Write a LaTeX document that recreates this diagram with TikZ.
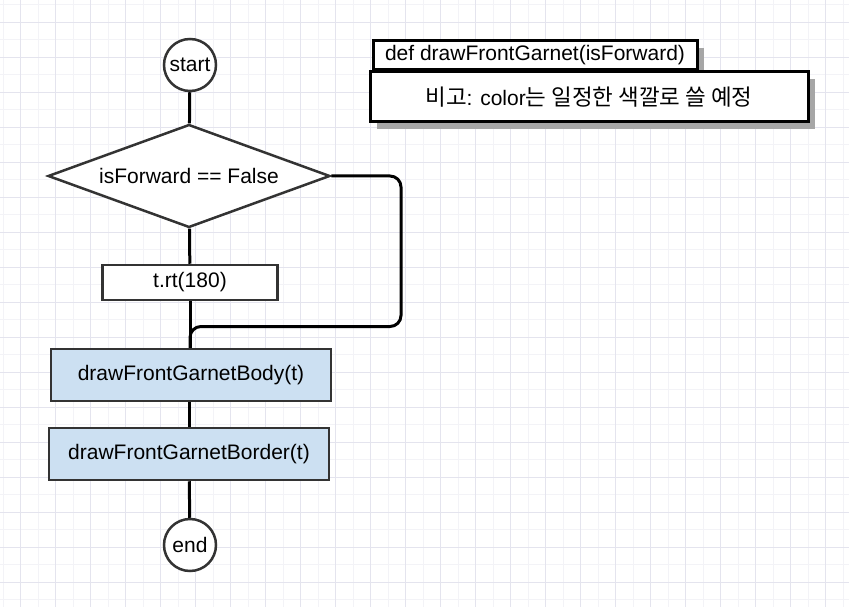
\documentclass[tikz,border=0pt]{standalone}
\usepackage{fontspec}
\setmainfont{Liberation Sans}
\newfontfamily\kr[Scale=1.07]{Noto Sans CJK KR}
\usepackage{tikz}
\usetikzlibrary{shapes.geometric,shadows,positioning}
\definecolor{gridmajor}{HTML}{E4E4EE}
\definecolor{gridminor}{HTML}{F3F3F7}
\definecolor{shapeline}{HTML}{333333}
\definecolor{callfill}{HTML}{CCE0F2}
\definecolor{shadowgray}{HTML}{A6A6A6}
\tikzstyle{terminal}=[circle, draw=shapeline, line width=2.5pt, fill=white, minimum size=52pt, inner sep=0pt]
\tikzstyle{decision}=[diamond, draw=shapeline, line width=2.5pt, fill=white, aspect=2.7, inner sep=0pt, minimum width=282pt, minimum height=103pt]
\tikzstyle{process}=[rectangle, draw=shapeline, line width=2.5pt, fill=white, minimum width=175pt, minimum height=35pt, inner sep=0pt]
\tikzstyle{call}=[rectangle, draw=shapeline, line width=2.5pt, fill=callfill, minimum width=280pt, minimum height=52pt, inner sep=0pt]
\tikzstyle{flow}=[line width=3pt, black]
\tikzstyle{header}=[rectangle, draw=black, line width=3pt, fill=white, minimum width=324pt, minimum height=29pt, inner sep=0pt,
    drop shadow={shadow xshift=7pt, shadow yshift=-7pt, fill=shadowgray, opacity=1}]
\tikzstyle{note}=[rectangle, draw=black, line width=3pt, fill=white, minimum width=438pt, minimum height=50pt, inner sep=0pt,
    drop shadow={shadow xshift=7pt, shadow yshift=-7pt, fill=shadowgray, opacity=1}]
\begin{document}
\begin{tikzpicture}[x=1pt, y=-1pt, font=\fontsize{21}{25}\selectfont]
        \useasboundingbox (0,0) rectangle (849,607);
        \fill[white] (0,0) rectangle (849,607);

        % Raster
        \foreach \k in {0,...,24} {
            \draw[gridminor, line width=1pt] (3.2+35*\k,0) -- (3.2+35*\k,607);
            \draw[gridminor, line width=1pt] (0,4.8+35*\k) -- (849,4.8+35*\k);
        }
        \foreach \k in {0,...,24} {
            \draw[gridmajor, line width=1pt] (20.7+35*\k,0) -- (20.7+35*\k,607);
            \draw[gridmajor, line width=1pt] (0,22.3+35*\k) -- (849,22.3+35*\k);
        }

        % Ablauf
        \node[terminal] (start) at (190,65) {start};
        \node[decision] (check) at (189,176) {isForward == False};
        \node[process] (turn) at (190,282.5) {t.rt(180)};
        \node[call] (body) at (191,375) {drawFrontGarnetBody(t)};
        \node[call] (border) at (189,454) {drawFrontGarnetBorder(t)};
        \node[terminal] (end) at (190,545) {end};
        \coordinate (skip) at (401,326.5);

        \draw[flow] (start) -- (check);
        \draw[flow] (check) -- (turn);
        \draw[flow] (turn.south) -- (turn.south |- body.north);
        \draw[flow, rounded corners=11pt] (check.east) -| (skip) -- (skip -| turn.south) -- (turn.south |- body.north);
        \draw[flow] (body.south -| border.north) -- (border.north);
        \draw[flow] (border) -- (end);

        % Kopf und Hinweis
        \node[header] (title) at (535,55.5) {def drawFrontGarnet(isForward)};
        \node[note] (remark) at (589,96.7) {{\kr 비고}: color{\kr 는 일정한 색깔로 쓸 예정}};
    \end{tikzpicture}
\end{document}
